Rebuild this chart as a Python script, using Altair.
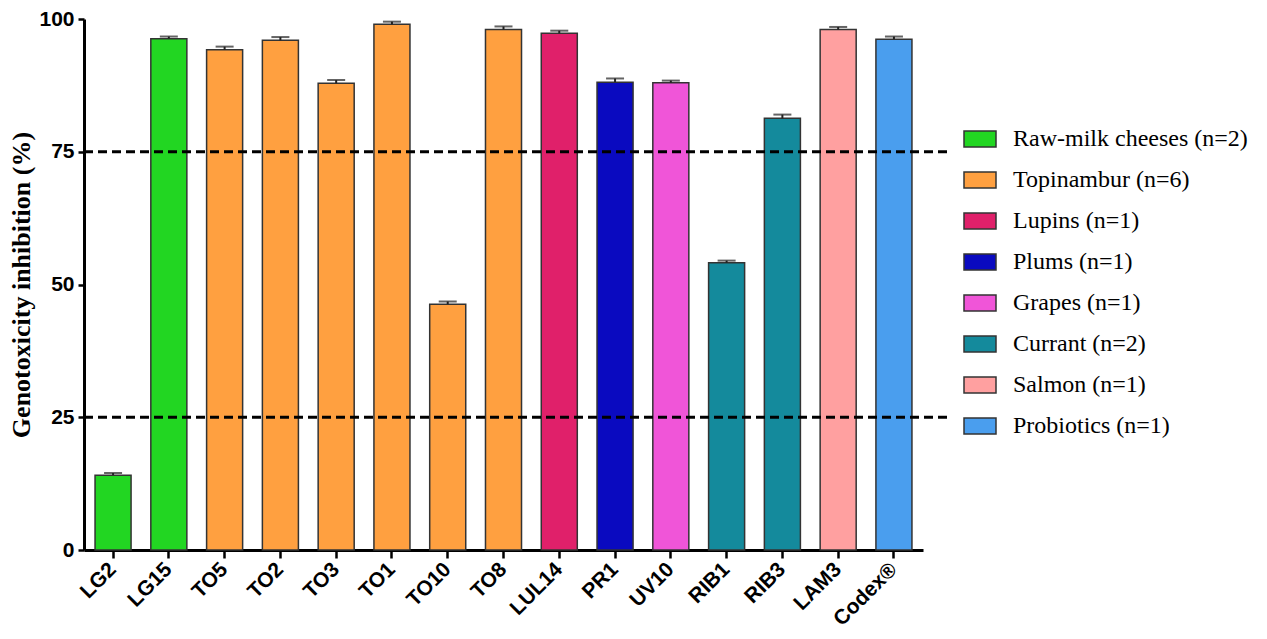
import altair as alt
import pandas as pd

samples = ["LG2", "LG15", "TO5", "TO2", "TO3", "TO1", "TO10", "TO8",
           "LUL14", "PR1", "UV10", "RIB1", "RIB3", "LAM3", "Codex®"]
values = [14.1, 96.3, 94.2, 96.0, 87.9, 99.0, 46.3, 98.0,
          97.3, 88.1, 88.0, 54.1, 81.3, 98.0, 96.2]
errors = [0.4, 0.4, 0.6, 0.6, 0.6, 0.5, 0.5, 0.6,
          0.5, 0.7, 0.4, 0.4, 0.7, 0.5, 0.5]
groups = ["Raw-milk cheeses (n=2)", "Raw-milk cheeses (n=2)",
          "Topinambur (n=6)", "Topinambur (n=6)", "Topinambur (n=6)",
          "Topinambur (n=6)", "Topinambur (n=6)", "Topinambur (n=6)",
          "Lupins (n=1)", "Plums (n=1)", "Grapes (n=1)",
          "Currant (n=2)", "Currant (n=2)", "Salmon (n=1)", "Probiotics (n=1)"]
group_order = ["Raw-milk cheeses (n=2)", "Topinambur (n=6)", "Lupins (n=1)",
               "Plums (n=1)", "Grapes (n=1)", "Currant (n=2)", "Salmon (n=1)",
               "Probiotics (n=1)"]
group_colors = ["#22D622", "#FFA040", "#E0206A", "#0A0AC0",
                "#F055D8", "#148A9C", "#FFA0A0", "#4A9EEE"]
thresholds = [75, 25]

df = pd.DataFrame({"sample": samples, "value": values, "err": errors, "group": groups})
df["top"] = df["value"] + df["err"]
thr = pd.DataFrame({"t": thresholds})

xenc = alt.X("sample:N", sort=samples,
             scale=alt.Scale(paddingInner=0.354, paddingOuter=0.198),
             axis=alt.Axis(title=None, labelAngle=-45, labelAlign="right",
                           labelBaseline="middle", labelFont="Liberation Sans",
                           labelFontWeight="bold", labelFontSize=21,
                           labelColor="black", labelPadding=8,
                           tickSize=8, tickWidth=2.5, tickColor="black",
                           domainWidth=3, domainColor="black"))
yscale = alt.Scale(domain=[0, 100], nice=False)

bars = alt.Chart(df).mark_bar(stroke="#333333", strokeWidth=1.5).encode(
    x=xenc,
    y=alt.Y("value:Q", scale=yscale,
            axis=alt.Axis(title="Genotoxicity inhibition (%)", values=[0, 25, 50, 75, 100],
                          titleFont="Liberation Serif", titleFontWeight="bold",
                          titleFontSize=26, titleColor="black", titlePadding=4,
                          labelFont="Liberation Sans", labelFontWeight="bold",
                          labelFontSize=21, labelColor="black", labelPadding=4,
                          tickSize=6, tickWidth=2.5, tickColor="black",
                          domainWidth=3, domainColor="black", grid=False)),
    color=alt.Color("group:N", sort=group_order,
                    scale=alt.Scale(domain=group_order, range=group_colors),
                    legend=alt.Legend(title=None, orient="none", legendX=879, legendY=103,
                                      symbolType="M-1,-0.5H1V0.5H-1Z", symbolSize=1024,
                                      symbolStrokeColor="#333333", symbolStrokeWidth=1.5,
                                      symbolOpacity=1,
                                      labelFont="Liberation Serif", labelFontSize=24,
                                      labelColor="black", labelOffset=16,
                                      rowPadding=12, labelLimit=400)),
)

err_line = alt.Chart(df).mark_rule(color="#222222", strokeWidth=2).encode(
    x=alt.X("sample:N", sort=samples), y=alt.Y("value:Q", scale=yscale), y2="top:Q")
err_cap = alt.Chart(df).mark_tick(color="#222222", thickness=2, size=18, orient="horizontal").encode(
    x=alt.X("sample:N", sort=samples), y=alt.Y("top:Q", scale=yscale))

rules = alt.Chart(thr).mark_rule(color="black", strokeWidth=3, strokeDash=[9, 5]).encode(
    y=alt.Y("t:Q", scale=yscale), x=alt.value(0), x2=alt.value(864))

chart = alt.layer(bars, err_line, err_cap, rules).properties(
    width=839, height=531, background="white",
    autosize=alt.AutoSizeParams(type="none"),
    padding={"left": 76, "top": 11, "right": 334, "bottom": 81},
).configure_view(stroke=None)

chart.save("out.html", embed_options={"renderer": "svg", "actions": False})
